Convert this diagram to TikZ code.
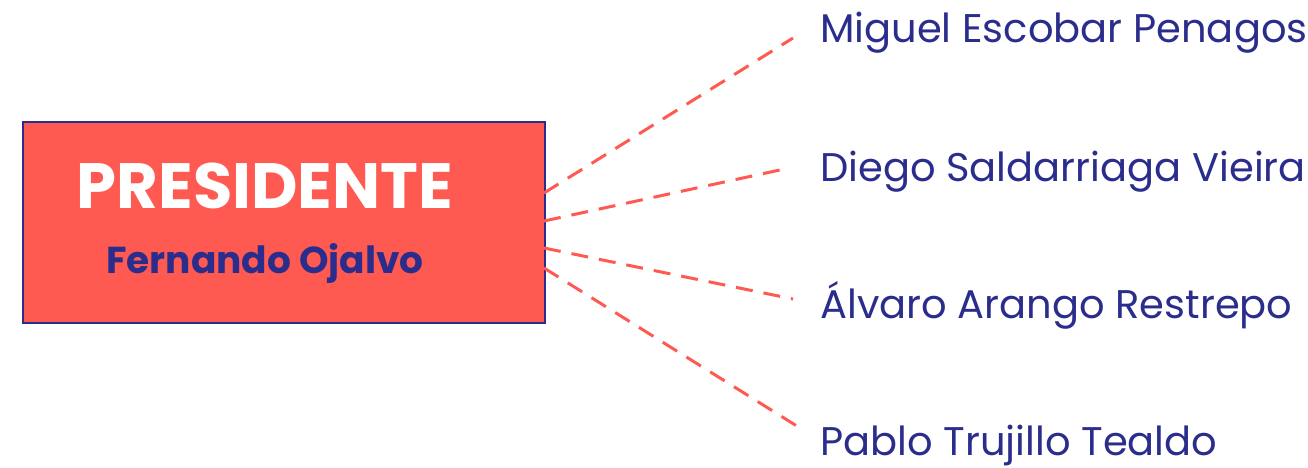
\documentclass[tikz,border=0pt]{standalone}
\usepackage{fontspec}
\setmainfont{Poppins}
\definecolor{coral}{HTML}{FF5A52}
\definecolor{navy}{HTML}{2B2D8C}
\begin{document}
\begin{tikzpicture}[x=1pt,y=-1pt,
  namelabel/.style={anchor=base west,inner sep=0pt,text=navy,font=\fontsize{40}{40}\selectfont},
  link/.style={draw=coral,line width=3pt,dash pattern=on 17pt off 11pt}]
\useasboundingbox (0,0) rectangle (1308,468);
\node[draw=navy,line width=2pt,fill=coral,minimum width=522pt,minimum height=201pt,inner sep=0pt,anchor=north west] (box) at (22,121) {};
\node[anchor=base,inner sep=0pt,text=white,font=\bfseries\fontsize{64}{64}\selectfont] (title) at (265,208) {PRESIDENTE};
\node[anchor=base,inner sep=0pt,text=navy,font=\bfseries\fontsize{37.5}{37.5}\selectfont] (pres) at (265,273) {Fernando Ojalvo};
\node[namelabel] (n1) at (820,43) {Miguel Escobar Penagos};
\node[namelabel] (n2) at (820,181) {Diego Saldarriaga Vieira};
\node[namelabel] (n3) at (820,318) {Álvaro Arango Restrepo};
\node[namelabel] (n4) at (820,455) {Pablo Trujillo Tealdo};
\coordinate (s1) at (544,193);
\coordinate (s2) at (544,221);
\coordinate (s3) at (544,248);
\coordinate (s4) at (544,268);
\coordinate (e1) at (793,38);
\coordinate (e2) at (789,168);
\coordinate (e3) at (793,299);
\coordinate (e4) at (800,428);
\draw[link] (s1) -- (e1);
\draw[link] (s2) -- (e2);
\draw[link] (s3) -- (e3);
\draw[link] (s4) -- (e4);
\end{tikzpicture}
\end{document}
